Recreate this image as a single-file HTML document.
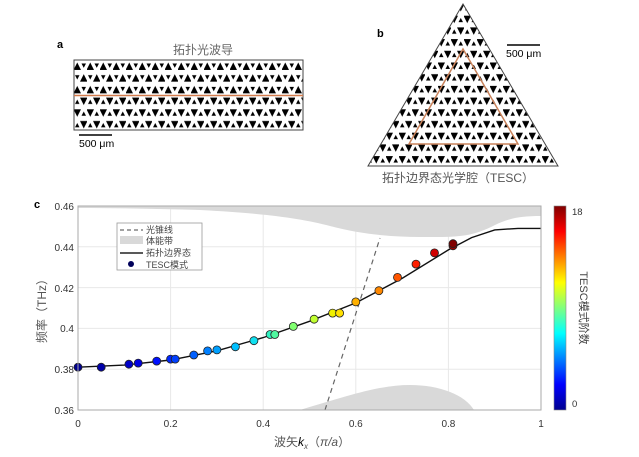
<!DOCTYPE html>
<html><head><meta charset="utf-8"><style>
body{margin:0;background:#fff;width:639px;height:452px;overflow:hidden}
text{font-family:"Liberation Sans","Noto Sans CJK SC",sans-serif}
</style></head><body>
<svg width="639" height="452" viewBox="0 0 639 452" xmlns="http://www.w3.org/2000/svg">
<defs>
<pattern id="pu" x="74" y="60" width="13" height="23.4" patternUnits="userSpaceOnUse">
<polygon points="-0.5,10 7,10 3.25,2.5" fill="#000"/>
<polygon points="7.5,3.5 12,3.5 9.75,7.8" fill="#000"/>
<polygon points="6,21.7 13.5,21.7 9.75,14.2" fill="#000"/>
<polygon points="1,15.2 5.5,15.2 3.25,19.5" fill="#000"/>
</pattern>
<pattern id="pd" x="74" y="60" width="13" height="23.4" patternUnits="userSpaceOnUse">
<polygon points="-0.5,2.5 7,2.5 3.25,10" fill="#000"/>
<polygon points="7.5,9 12,9 9.75,4.7" fill="#000"/>
<polygon points="6,14.2 13.5,14.2 9.75,21.7" fill="#000"/>
<polygon points="1,20.5 5.5,20.5 3.25,16.2" fill="#000"/>
</pattern>
<clipPath id="tri"><polygon points="463,4 368,166 558,166"/></clipPath>
</defs>
<!-- panel a -->
<text x="57" y="48" font-size="11" font-weight="bold">a</text>
<text x="203" y="54" font-size="12" fill="#666" text-anchor="middle">拓扑光波导</text>
<rect x="74" y="60" width="229" height="35" fill="url(#pu)"/>
<rect x="74" y="96" width="229" height="34" fill="url(#pd)"/>
<rect x="74" y="60" width="229" height="70" fill="none" stroke="#444" stroke-width="1"/>
<line x1="74" y1="95.5" x2="303" y2="95.5" stroke="#d27a4c" stroke-width="1.5"/>
<line x1="79" y1="135" x2="112" y2="135" stroke="#000" stroke-width="1.5"/>
<text x="79" y="147" font-size="10.5">500 μm</text>
<!-- panel b -->
<text x="377" y="37" font-size="11" font-weight="bold">b</text>
<g clip-path="url(#tri)"><rect x="360" y="0" width="200" height="170" fill="url(#pd)"/></g>
<polygon points="463,4 368,166 558,166" fill="none" stroke="#444" stroke-width="1"/>
<polygon points="463,49 409,144 518,144" fill="none" stroke="#c9825a" stroke-width="1.5"/>
<line x1="507" y1="45" x2="540" y2="45" stroke="#000" stroke-width="1.5"/>
<text x="506" y="57" font-size="10.5">500 μm</text>
<text x="458" y="182" font-size="12" fill="#555" text-anchor="middle">拓扑边界态光学腔（TESC）</text>
<!-- panel c -->
<text x="34" y="208" font-size="11" font-weight="bold">c</text>
<g stroke="#e8e8e8" stroke-width="1">
<line x1="170.6" y1="206" x2="170.6" y2="410"/><line x1="263.2" y1="206" x2="263.2" y2="410"/><line x1="355.8" y1="206" x2="355.8" y2="410"/><line x1="448.4" y1="206" x2="448.4" y2="410"/>
<line x1="78" y1="246.8" x2="541" y2="246.8"/><line x1="78" y1="287.6" x2="541" y2="287.6"/><line x1="78" y1="328.4" x2="541" y2="328.4"/><line x1="78" y1="369.2" x2="541" y2="369.2"/>
</g>
<!-- bands -->
<path d="M78,206 L541,206 L541,216 C520,216 510,218 495,225 C470,238 455,237 420,237 C390,237 360,234 330,226 C300,218 260,213 200,210 C160,209 120,208 78,208 Z" fill="#d9d9d9"/>
<path d="M300,410 C350,395 380,385 410,385 C440,385 465,395 474,410 Z" fill="#d9d9d9"/>
<!-- light cone -->
<line x1="325" y1="410" x2="380" y2="238" stroke="#666" stroke-width="1.2" stroke-dasharray="5,4"/>
<!-- curve -->
<polyline fill="none" stroke="#111" stroke-width="1.4" points="78,367.2 124.3,365.1 170.6,360 216.9,350.8 263.2,337.6 309.5,321.3 355.8,302.9 402.1,278.4 448.4,249.9 471.6,237.6 494.7,229.9 517.9,228.4 541,228.4"/>
<!-- points -->
<g stroke="#222" stroke-width="0.8">
<circle cx="78" cy="367.2" r="4" fill="#00008f"/>
<circle cx="101.2" cy="367.2" r="4" fill="#0000a8"/>
<circle cx="128.9" cy="364.2" r="4" fill="#0000c8"/>
<circle cx="138.2" cy="363.1" r="4" fill="#0000e0"/>
<circle cx="156.7" cy="361.1" r="4" fill="#0010ff"/>
<circle cx="170.6" cy="359.1" r="4" fill="#0028ff"/>
<circle cx="175.2" cy="359.1" r="4" fill="#0040ff"/>
<circle cx="193.8" cy="355" r="4" fill="#0060ff"/>
<circle cx="207.6" cy="350.9" r="4" fill="#0080ff"/>
<circle cx="216.9" cy="349.9" r="4" fill="#00a0ff"/>
<circle cx="235.4" cy="346.8" r="4" fill="#00c0ff"/>
<circle cx="253.9" cy="340.7" r="4" fill="#10e0f0"/>
<circle cx="270.1" cy="334.5" r="4" fill="#30f0c0"/>
<circle cx="274.8" cy="334.5" r="4" fill="#50f8a0"/>
<circle cx="293.3" cy="326.4" r="4" fill="#80ff70"/>
<circle cx="314.1" cy="319.2" r="4" fill="#c0ff30"/>
<circle cx="332.6" cy="313.1" r="4" fill="#f0f000"/>
<circle cx="339.6" cy="313.1" r="4" fill="#ffe000"/>
<circle cx="355.8" cy="301.9" r="4" fill="#ffb000"/>
<circle cx="378.9" cy="290.7" r="4" fill="#ff8800"/>
<circle cx="397.5" cy="277.4" r="4" fill="#ff5500"/>
<circle cx="416" cy="264.1" r="4" fill="#ff2000"/>
<circle cx="434.5" cy="252.9" r="4" fill="#d00000"/>
<circle cx="453" cy="245.8" r="4" fill="#a00000"/>
<circle cx="453" cy="243.7" r="4" fill="#800000"/>
</g>
<!-- axes -->
<rect x="78" y="206" width="463" height="204" fill="none" stroke="#aaa" stroke-width="1"/>
<g font-size="10" fill="#333">
<text x="74" y="210" text-anchor="end">0.46</text>
<text x="74" y="251" text-anchor="end">0.44</text>
<text x="74" y="292" text-anchor="end">0.42</text>
<text x="74" y="332" text-anchor="end">0.4</text>
<text x="74" y="373" text-anchor="end">0.38</text>
<text x="74" y="414" text-anchor="end">0.36</text>
<text x="78" y="427" text-anchor="middle">0</text>
<text x="170.6" y="427" text-anchor="middle">0.2</text>
<text x="263.2" y="427" text-anchor="middle">0.4</text>
<text x="355.8" y="427" text-anchor="middle">0.6</text>
<text x="448.4" y="427" text-anchor="middle">0.8</text>
<text x="541" y="427" text-anchor="middle">1</text>
</g>
<text x="274" y="446" font-size="12" fill="#555">波矢<tspan font-style="italic" fill="#000">k</tspan><tspan font-size="8" font-style="italic" dy="3">x</tspan><tspan dy="-3">（</tspan><tspan font-style="italic">π/a</tspan>）</text>
<text transform="translate(46,308) rotate(-90)" font-size="12" fill="#555" text-anchor="middle">频率（THz）</text>
<!-- legend -->
<rect x="117" y="223" width="85" height="47" fill="#fff" stroke="#999" stroke-width="0.8"/>
<line x1="120" y1="230" x2="143" y2="230" stroke="#444" stroke-dasharray="4,3"/>
<rect x="120" y="236" width="23" height="8" fill="#d9d9d9"/>
<line x1="120" y1="253" x2="143" y2="253" stroke="#222" stroke-width="1.5"/>
<circle cx="131" cy="264" r="3" fill="#00005a"/>
<g font-size="9" fill="#444"><text x="146" y="233">光锥线</text><text x="146" y="244">体能带</text><text x="146" y="256">拓扑边界态</text><text x="146" y="268">TESC模式</text></g>
<!-- colorbar -->
<defs><linearGradient id="jet" x1="0" y1="1" x2="0" y2="0">
<stop offset="0" stop-color="#00008f"/><stop offset="0.125" stop-color="#0000ff"/><stop offset="0.375" stop-color="#00ffff"/><stop offset="0.625" stop-color="#ffff00"/><stop offset="0.875" stop-color="#ff0000"/><stop offset="1" stop-color="#800000"/>
</linearGradient></defs>
<rect x="554" y="206" width="12" height="204" fill="url(#jet)" stroke="#888" stroke-width="0.6"/>
<text x="572" y="215" font-size="9.5" fill="#333">18</text>
<text x="572" y="407" font-size="9.5" fill="#333">0</text>
<text transform="translate(580,308) rotate(90)" font-size="11" fill="#444" text-anchor="middle">TESC模式阶数</text>
</svg>
</body></html>
